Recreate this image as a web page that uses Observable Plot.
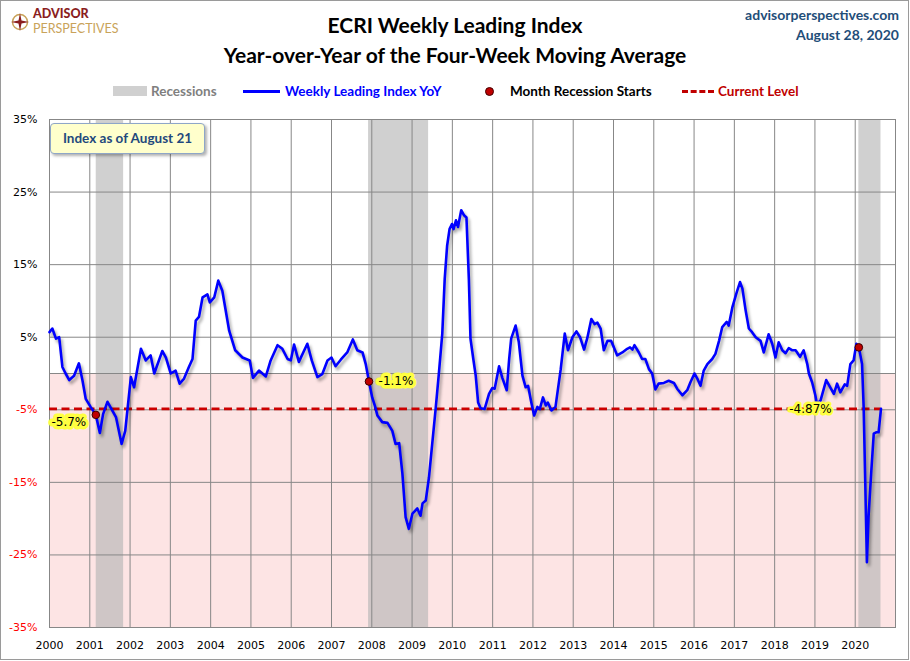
<!DOCTYPE html>
<html><head><meta charset="utf-8">
<script src="https://cdn.jsdelivr.net/npm/d3@7"></script>
<script src="https://cdn.jsdelivr.net/npm/@observablehq/plot@0.6"></script>
<style>
body{margin:0;background:#fff;}
#wrap{position:relative;width:910px;height:661px;overflow:hidden;font-family:Lato,"Open Sans",sans-serif;background:#fff;}
.abs{position:absolute;white-space:nowrap;}
.title{left:0;width:910px;text-align:center;font-weight:700;font-size:21px;color:#000;}
.hdr{right:11px;text-align:right;font-weight:700;font-size:14px;color:#1f4e79;}
.leg{top:83px;font-size:13.5px;font-weight:700;line-height:16px;}
#box{left:50px;top:123px;width:153px;height:29px;background:#ffffcc;border:1px solid #8ea6c8;border-radius:4px;box-shadow:2px 2px 3px rgba(0,0,0,0.3);color:#1f497d;font-weight:700;font-size:13.5px;line-height:29px;text-align:center;}
#border{left:0;top:0;width:907px;height:658px;border:1px solid #9a9a9a;pointer-events:none;}
#chart{left:0;top:100px;}
</style></head><body>
<div id="wrap">
  <svg class="abs" style="left:10px;top:12px" width="20" height="20" viewBox="0 0 20 20">
    <circle cx="10" cy="10" r="7.5" fill="none" stroke="#c9a35a" stroke-width="1.5"/>
    <path d="M10 1 L11.5 8.5 L19 10 L11.5 11.5 L10 19 L8.5 11.5 L1 10 L8.5 8.5 Z" fill="#8b1e1e"/>
  </svg>
  <div class="abs" style="left:33px;top:7px;font-size:12.5px;font-weight:900;color:#8b1e1e;line-height:14px;height:14px">ADVISOR</div>
  <div class="abs" style="left:33px;top:22px;font-size:12.5px;font-weight:400;color:#c9a35a;line-height:14px;height:14px">PERSPECTIVES</div>
  <div class="abs title" style="top:12px">ECRI Weekly Leading Index</div>
  <div class="abs title" style="top:42px">Year-over-Year of the Four-Week Moving Average</div>
  <div class="abs hdr" style="top:6px">advisorperspectives.com</div>
  <div class="abs hdr" style="top:26px">August 28, 2020</div>

  <div class="abs" style="left:113px;top:86px;width:34px;height:10px;background:#d0d0d0"></div>
  <div class="abs leg" style="left:151px;color:#7f7f7f">Recessions</div>
  <div class="abs" style="left:243px;top:90px;width:37px;height:3px;background:#0000ff"></div>
  <div class="abs leg" style="left:285px;color:#0000ff">Weekly Leading Index YoY</div>
  <div class="abs" style="left:485px;top:87px;width:7px;height:7px;border-radius:50%;background:#c00000;border:1px solid #400"></div>
  <div class="abs leg" style="left:510px;color:#000">Month Recession Starts</div>
  <div class="abs" style="left:682px;top:90px;width:32px;height:0;border-top:3px dashed #c00000"></div>
  <div class="abs leg" style="left:718px;color:#c00000">Current Level</div>

  <div id="chart" class="abs"></div>
  <div id="box" class="abs">Index as of August 21</div>
  <div id="border" class="abs"></div>
</div>
<script>
// Decimal year of each reading
const years = [
2000.00,2000.07,2000.16,2000.24,2000.32,2000.40,2000.49,2000.61,2000.73,2000.82,2000.90,
2001.02,2001.15,2001.25,2001.33,2001.44,2001.56,2001.65,2001.79,2001.88,
2002.02,2002.10,2002.27,2002.39,2002.51,2002.60,2002.80,2002.89,
2003.01,2003.13,2003.23,2003.34,2003.46,2003.55,2003.63,2003.71,2003.80,2003.92,2003.98,
2004.09,2004.19,2004.29,2004.46,2004.61,2004.79,2004.97,
2005.05,2005.20,2005.37,2005.49,2005.66,2005.78,2005.91,2005.99,
2006.07,2006.19,2006.40,2006.51,2006.65,2006.77,2006.90,
2007.00,2007.10,2007.23,2007.39,2007.53,2007.64,2007.77,2007.85,2007.93,
2008.01,2008.08,2008.14,2008.26,2008.39,2008.51,2008.59,2008.68,2008.76,2008.84,2008.92,
2009.01,2009.13,2009.21,2009.26,2009.34,2009.42,2009.50,2009.59,2009.67,2009.75,2009.81,2009.87,2009.93,2009.99,
2010.03,2010.09,2010.14,2010.22,2010.29,2010.35,2010.41,2010.45,2010.52,2010.58,2010.64,2010.70,2010.80,2010.91,2010.99,
2011.05,2011.16,2011.24,2011.35,2011.41,2011.46,2011.57,2011.65,2011.74,2011.82,2011.88,2011.96,
2012.03,2012.11,2012.17,2012.25,2012.32,2012.37,2012.46,2012.56,2012.69,2012.79,2012.87,2012.98,
2013.08,2013.17,2013.27,2013.35,2013.45,2013.53,2013.60,2013.68,2013.76,2013.85,2013.94,
2014.01,2014.09,2014.22,2014.34,2014.41,2014.47,2014.52,2014.63,2014.71,2014.79,2014.88,2014.96,
2015.04,2015.12,2015.25,2015.37,2015.50,2015.58,2015.71,2015.83,2015.91,
2016.01,2016.08,2016.16,2016.24,2016.33,2016.45,2016.53,2016.62,2016.70,2016.81,2016.86,2016.95,
2017.06,2017.14,2017.20,2017.28,2017.36,2017.44,2017.53,2017.65,2017.73,2017.85,2017.94,
2018.02,2018.10,2018.19,2018.27,2018.35,2018.44,2018.52,2018.63,2018.72,2018.81,2018.85,2018.93,
2019.01,2019.05,2019.14,2019.28,2019.37,2019.47,2019.55,2019.63,2019.74,2019.80,2019.88,2019.96,
2020.03,2020.09,2020.17,2020.21,2020.25,2020.29,2020.33,2020.40,2020.46,2020.52,2020.58,2020.64
];
// Year-over-year % of the 4-week moving average
const values = [
5.7,6.2,4.8,5.0,0.9,0.0,-0.9,-0.3,1.4,-1.0,-3.5,
-4.6,-5.7,-8.2,-5.6,-3.9,-5.1,-6.0,-9.7,-7.9,
-0.5,-1.9,3.4,1.8,2.5,0.0,3.1,2.2,
0.0,0.4,-1.4,-0.7,0.9,2.0,7.3,7.8,10.5,10.9,9.8,
10.5,12.8,11.4,5.9,3.2,2.2,1.8,
-0.6,0.4,-0.4,1.8,3.9,3.4,2.0,1.8,
4.0,1.6,4.1,1.8,-0.5,-0.1,1.8,
2.2,1.0,1.9,2.9,4.7,3.2,2.9,1.3,-1.1,
-3.3,-4.5,-5.8,-6.7,-6.8,-7.9,-9.7,-9.6,-13.8,-19.8,-21.4,
-19.3,-18.6,-19.6,-17.9,-17.5,-14.3,-9.7,-4.6,0.3,5.5,13.0,17.6,19.9,20.6,
19.9,21.1,20.2,22.5,21.8,21.5,13.0,4.8,2.0,-0.3,-4.0,-4.8,-4.9,-2.8,-2.0,
-2.1,1.0,-0.6,-2.3,2.0,4.8,6.6,4.3,-0.3,-1.9,-1.7,-4.0,
-5.8,-4.6,-4.9,-3.3,-4.4,-4.0,-5.1,-4.6,0.6,5.5,3.2,5.0,
5.8,5.0,3.3,4.9,7.5,6.8,7.0,6.2,3.2,4.5,4.5,
3.6,2.5,2.9,3.4,3.6,3.3,3.9,2.9,2.0,2.0,0.6,0.0,
-2.2,-1.4,-1.3,-1.0,-1.3,-2.1,-3.0,-2.3,-1.2,
0.0,-0.7,-1.7,0.4,1.3,2.0,2.7,4.5,6.4,7.1,6.6,9.1,
11.2,12.6,11.7,8.7,6.2,5.7,5.0,4.5,2.9,5.4,4.1,
2.2,4.3,3.2,2.8,3.5,3.2,3.2,2.3,3.2,1.3,0.0,-1.2,
-3.0,-4.2,-3.7,-0.9,-1.8,-2.8,-1.4,-2.6,-1.5,-1.7,1.3,1.8,
4.1,3.6,1.3,-4.7,-15.2,-26.0,-19.8,-13.4,-8.3,-8.1,-8.1,-4.87
];
const recessionStart = [2001.16, 2007.92, 2020.09];
const recessionEnd   = [2001.84, 2009.41, 2020.64];
const startYears  = [2001.15, 2007.93, 2020.09];
const startValues = [-5.7, -1.1, 3.6];
const startLabels = ["-5.7%", "-1.1%", ""];
const currentLevel = -4.87;
const currentLabel = "-4.87%";
const lastYear = 2020.64;
const xTicks = d3.range(2000, 2021);
const yTicks = [35, 25, 15, 5, -5, -15, -25, -35];

const series = years.map((y, i) => ({year: y, value: values[i]}));
const recessions = recessionStart.map((s, i) => ({x1: s, x2: recessionEnd[i]}));
const starts = startYears.map((y, i) => ({year: y, value: startValues[i], label: startLabels[i]}));

const chart = Plot.plot({
  width: 910, height: 561,
  marginLeft: 49, marginRight: 15, marginTop: 19, marginBottom: 34,
  style: {fontFamily: "'DejaVu Sans', Verdana, sans-serif", fontSize: "11px", background: "transparent"},
  x: {domain: [2000, 2021], axis: null},
  y: {domain: [-35, 35], axis: null},
  marks: [
    Plot.rect([{x1: 2000, x2: 2021, y1: -35, y2: 0}], {x1: "x1", x2: "x2", y1: "y1", y2: "y2", fill: "#fde4e4"}),
    Plot.rect(recessions, {x1: "x1", x2: "x2", y1: -35, y2: 35, fill: "#b4b4b4", fillOpacity: 0.63}),
    Plot.ruleX(xTicks, {stroke: "#878787", strokeWidth: 1}),
    Plot.ruleY([...yTicks, 0], {stroke: "#878787", strokeWidth: 1}),
    Plot.frame({stroke: "#878787"}),
    Plot.text(yTicks, {frameAnchor: "left", y: d => d, text: d => `${d}%`, textAnchor: "end", dx: -12,
      fill: d => d < 0 ? "#ff0000" : "#000000"}),
    Plot.text(xTicks, {frameAnchor: "bottom", x: d => d, text: d => String(d), dy: 18, lineAnchor: "middle", fill: "#000"}),
    Plot.ruleY([currentLevel], {x1: 2000, x2: lastYear, stroke: "#cc0000", strokeWidth: 2.6, strokeDasharray: "8,4.5"}),
    Plot.line(series, {x: "year", y: "value", stroke: "#0000ff", strokeWidth: 2.6, curve: "linear", strokeLinejoin: "round"}),
    Plot.dot(starts, {x: "year", y: "value", r: 3.8, fill: "#c00000", stroke: "#3a0000", strokeWidth: 1}),
    Plot.text(starts.filter(d => d.label === "-5.7%"), {x: "year", y: "value", text: "label", dx: -27, dy: 7,
      fontSize: 12, fill: "#000", stroke: "#ffff40", strokeWidth: 7, strokeLinejoin: "round"}),
    Plot.text(starts.filter(d => d.label === "-1.1%"), {x: "year", y: "value", text: "label", dx: 27, dy: 0,
      fontSize: 12, fill: "#000", stroke: "#ffff40", strokeWidth: 7, strokeLinejoin: "round"}),
    Plot.text([currentLabel], {x: 2018.89, y: currentLevel, text: d => d,
      fontSize: 12, fill: "#000", stroke: "#ffff40", strokeWidth: 5, strokeLinejoin: "round"})
  ]
});
document.getElementById("chart").appendChild(chart);
chart.querySelectorAll('g[aria-label="line"] path').forEach(p => {
  p.style.filter = "drop-shadow(2px 3px 1.5px rgba(0,0,0,0.35))";
});
</script>
</body></html>
